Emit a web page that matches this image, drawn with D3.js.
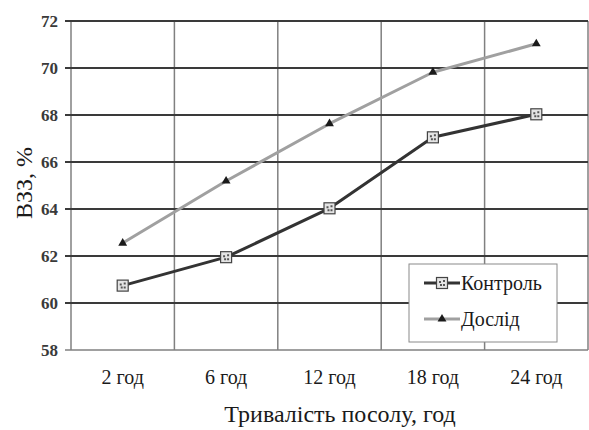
<!DOCTYPE html>
<html>
<head>
<meta charset="utf-8">
<script src="https://cdn.jsdelivr.net/npm/d3@7"></script>
<style>
  html, body { margin: 0; padding: 0; background: #fff; }
  svg { display: block; }
</style>
</head>
<body>
<svg id="chart" width="589" height="430"></svg>
<script>
// Duration of salting (categories) and water-holding capacity, %
const categories = ["2 год", "6 год", "12 год", "18 год", "24 год"];
const kontrol = [60.74, 61.95, 64.03, 67.05, 68.03];
const doslid = [62.55, 65.19, 67.63, 69.82, 71.03];
const yTicks = [58, 60, 62, 64, 66, 68, 70, 72];
const seriesNames = ["Контроль", "Дослід"];
const xTitle = "Тривалість посолу, год";
const yTitle = "ВЗЗ, %";

const FONT = "Liberation Serif";

const svg = d3.select("#chart");
const plot = { left: 71, right: 588, top: 21, bottom: 350 };

const x = d3.scaleBand().domain(categories).range([plot.left, plot.right]);
const y = d3.scaleLinear().domain([58, 72]).range([plot.bottom, plot.top]);

// vertical gridlines at band boundaries
const bounds = categories.map(c => x(c)).concat([plot.right]);
svg.append("g").selectAll("line").data(bounds).join("line")
  .attr("x1", d => d).attr("x2", d => d)
  .attr("y1", plot.top).attr("y2", plot.bottom)
  .attr("stroke", "#808080").attr("stroke-width", 1.5);

// horizontal gridlines
svg.append("g").selectAll("line").data(yTicks).join("line")
  .attr("x1", plot.left - 6).attr("x2", plot.right)
  .attr("y1", d => y(d)).attr("y2", d => y(d))
  .attr("stroke", d => d === 58 ? "#808080" : "#3a3a3a")
  .attr("stroke-width", d => d === 58 ? 1.5 : 2);

// y axis tick labels
svg.append("g").selectAll("text").data(yTicks).join("text")
  .attr("x", plot.left - 13).attr("y", d => y(d))
  .attr("dy", "0.35em").attr("text-anchor", "end")
  .attr("font-family", FONT).attr("font-size", 17).attr("font-weight", "bold").attr("fill", "#3a3a3a")
  .text(d => d);

// x axis category labels
svg.append("g").selectAll("text").data(categories).join("text")
  .attr("x", d => x(d) + x.bandwidth() / 2).attr("y", 384)
  .attr("text-anchor", "middle")
  .attr("font-family", FONT).attr("font-size", 20).attr("fill", "#1a1a1a")
  .text(d => d);

// axis titles
svg.append("text").attr("x", 340).attr("y", 422)
  .attr("text-anchor", "middle")
  .attr("font-family", FONT).attr("font-size", 24).attr("fill", "#1a1a1a").text(xTitle);
svg.append("text").attr("transform", "translate(32,183) rotate(-90)")
  .attr("text-anchor", "middle")
  .attr("font-family", FONT).attr("font-size", 24).attr("fill", "#1a1a1a").text(yTitle);

const cx = c => x(c) + x.bandwidth() / 2;
const line = d3.line()
  .x((d, i) => cx(categories[i]))
  .y(d => y(d));

const series = [
  { name: seriesNames[0], values: kontrol, color: "#333333", marker: "square" },
  { name: seriesNames[1], values: doslid, color: "#a0a0a0", marker: "triangle" }
];

function drawMarker(g, type, px, py) {
  if (type === "square") {
    g.append("rect").attr("x", px - 5.5).attr("y", py - 5.5)
      .attr("width", 11).attr("height", 11)
      .attr("fill", "#e4e4e4").attr("stroke", "#444").attr("stroke-width", 1.2);
    g.append("path")
      .attr("d", `M${px-3},${py-2}h2v2h-2zM${px+1},${py-3}h2v2h-2zM${px-2},${py+1}h2v2h-2zM${px+1},${py+1}h2v2h-2z`)
      .attr("fill", "#555");
  } else {
    g.append("path")
      .attr("d", d3.symbol().type(d3.symbolTriangle).size(34)())
      .attr("transform", `translate(${px},${py})`)
      .attr("fill", "#1a1a1a");
  }
}

series.forEach(s => {
  svg.append("path").datum(s.values)
    .attr("d", line).attr("fill", "none")
    .attr("stroke", s.color).attr("stroke-width", 3)
    .attr("stroke-linejoin", "round");
  const g = svg.append("g");
  s.values.forEach((v, i) => drawMarker(g, s.marker, cx(categories[i]), y(v)));
});

// legend
const lg = svg.append("g");
lg.append("rect").attr("x", 409).attr("y", 264).attr("width", 148).attr("height", 78)
  .attr("fill", "#fff").attr("stroke", "#8a8a8a").attr("stroke-width", 1);
series.forEach((s, i) => {
  const ly = 283 + i * 36;
  lg.append("line").attr("x1", 424).attr("x2", 460).attr("y1", ly).attr("y2", ly)
    .attr("stroke", s.color).attr("stroke-width", 3);
  drawMarker(lg, s.marker, 442, ly);
  lg.append("text").attr("x", 461).attr("y", ly).attr("dy", "0.35em")
    .attr("font-family", FONT).attr("font-size", 20).attr("fill", "#1a1a1a").text(s.name);
});
</script>
</body>
</html>
